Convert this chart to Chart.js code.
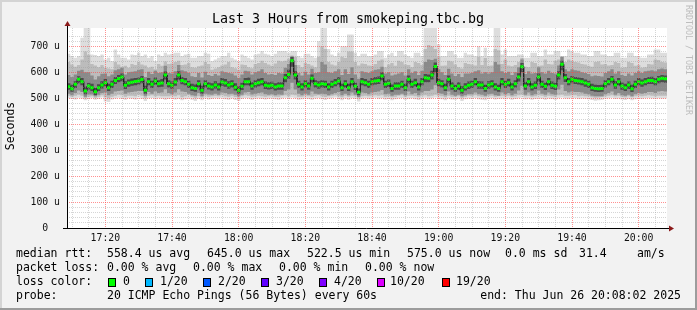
<!DOCTYPE html>
<html>
<head>
<meta charset="utf-8">
<script src="https://cdn.jsdelivr.net/npm/chart.js@4.4.1/dist/chart.umd.min.js"></script>
<style>
  html, body { margin: 0; padding: 0; background: #f2f2f2; }
  canvas { display: block; }
</style>
</head>
<body>
<canvas id="c" width="697" height="310"></canvas>
<script>
// smokeping: 180 one-minute samples, values in microseconds
const startMin = 1028.5; // 17:08:30, left edge of the plot (minutes of the day)

const xTickLabels = ['17:20', '17:40', '18:00', '18:20', '18:40', '19:00', '19:20', '19:40', '20:00'];
const yTickLabels = ['0  ', '100 u', '200 u', '300 u', '400 u', '500 u', '600 u', '700 u'];

// median rtt
const median = [
  545,537,554,573,564,528,547,541,525,541, 551,560,541,554,569,576,582,550,559,562, 565,567,572,531,564,554,567,556,559,590,
  556,550,563,590,569,564,554,541,538,556, 531,556,547,544,551,544,563,559,551,556, 543,531,546,564,564,547,556,560,564,550,
  547,550,544,547,547,579,592,645,590,554, 544,556,547,577,556,551,556,554,544,554, 560,567,541,556,541,564,546,523,564,560,
  554,564,567,569,586,554,558,538,547,547, 554,541,573,554,560,544,564,579,577,590, 623,560,556,541,573,547,538,547,531,544,
  550,554,564,551,551,538,551,556,544,538, 564,554,560,544,556,582,622,547,564,544, 550,582,554,546,564,550,546,590,631,579,
  564,573,569,567,564,559,554,541,538,537, 538,556,564,573,551,564,547,541,551,537, 554,564,559,564,569,569,564,573,577,575
];

// smoke: slowest / fastest ping of each round
const maxRtt = [
  672,663,656,663,733,774,774,669,667,663, 669,650,656,644,688,669,656,656,650,669, 667,676,663,669,656,663,644,669,663,676,
  669,672,676,676,663,669,672,656,656,663, 663,676,672,644,650,656,663,663,676,656, 650,644,669,663,656,650,669,672,682,672,
  669,663,672,682,682,682,676,682,682,663, 656,672,672,663,656,720,774,774,690,669, 663,676,701,701,746,746,676,663,672,672,
  663,663,669,682,682,656,669,676,663,682, 682,669,663,656,676,676,663,774,774,774, 774,708,663,663,682,682,669,656,656,676,
  669,669,663,701,663,695,663,663,772,772, 669,688,663,663,663,669,669,656,656,676, 676,663,663,688,669,669,682,682,663,663,
  688,682,676,676,669,669,663,663,682,682, 669,669,663,663,676,676,656,656,676,676, 663,663,656,656,669,669,688,688,676,676
];
const minRtt = [
  500,497,495,502,498,492,496,500,494,497, 503,488,486,495,499,502,497,494,500,498, 495,503,497,490,499,501,496,500,498,494,
  497,500,495,498,492,496,501,494,490,497, 492,499,495,497,500,498,502,496,494,499, 493,490,497,501,499,494,498,500,497,495,
  498,500,496,494,499,502,497,503,500,494, 496,499,497,494,499,501,496,493,498,500, 503,497,492,499,494,500,497,488,498,500,
  497,499,502,498,500,495,497,492,496,499, 501,494,498,500,496,493,499,502,497,500, 503,498,496,492,499,495,494,498,490,496,
  499,497,501,496,494,492,498,500,495,497, 499,496,500,494,497,500,503,496,499,494, 497,500,498,494,499,497,494,500,503,499,
  498,501,500,497,499,498,496,493,491,492, 494,498,500,502,497,499,495,493,497,492, 496,499,497,500,501,499,497,500,498,499
];

// inner smoke bands (upper / lower edges)
const hi2 = [
  640,630,622,628,650,680,668,632,626,620, 628,618,615,612,640,630,622,625,618,632, 628,640,630,626,618,622,612,632,625,642,
  632,634,640,645,628,630,636,620,618,624, 626,640,632,610,615,620,626,630,640,620, 616,610,630,628,620,616,632,636,645,636,
  630,625,634,645,642,645,652,665,660,628, 620,636,632,626,620,660,700,690,640,630, 626,640,660,655,680,680,640,626,634,632,
  626,625,632,645,650,620,630,636,625,645, 640,630,628,620,640,636,628,690,705,700, 690,660,625,626,645,642,630,620,615,636,
  632,630,626,660,628,655,625,626,690,685, 632,650,626,624,628,640,655,622,620,640, 636,625,626,650,632,630,645,650,660,640,
  650,645,640,638,632,630,625,622,640,642, 630,632,626,628,640,636,618,620,640,636, 625,628,618,620,632,630,650,648,640,638
];
const lo2 = [
  510,506,510,514,510,500,506,508,502,506, 512,504,500,506,510,514,512,506,510,510, 508,514,510,502,510,512,508,510,508,508,
  508,510,508,512,504,508,512,506,502,508, 503,510,506,508,510,508,512,508,506,510, 505,502,508,512,510,506,508,510,508,506,
  508,510,506,506,510,512,508,514,512,506, 506,510,508,506,510,512,508,505,508,510, 512,508,504,510,506,510,508,500,508,510,
  508,510,512,510,512,506,508,504,506,510, 512,506,510,510,508,504,510,512,508,510, 514,510,508,504,510,506,506,508,502,506,
  510,508,512,508,506,504,508,510,506,508, 510,508,510,506,508,512,514,508,510,506, 508,512,510,506,510,508,506,512,514,510,
  510,512,512,508,510,508,508,504,502,503, 505,508,510,512,508,510,506,504,508,504, 508,510,508,510,512,510,508,510,510,510
];
const hi3 = [
  590,582,592,606,610,600,600,588,572,585, 595,596,585,592,608,612,618,592,600,602, 604,610,612,582,602,594,606,598,600,625,
  598,596,604,628,608,604,598,585,582,598, 580,602,590,586,594,588,604,600,598,596, 588,578,592,606,604,592,600,604,612,598,
  592,594,590,598,596,618,632,660,628,598, 588,602,592,614,598,600,640,630,600,598, 604,612,590,612,594,620,592,575,604,600,
  598,604,610,612,622,596,600,588,592,596, 600,588,612,598,604,590,606,640,650,648, 652,612,600,590,614,596,586,594,582,596,
  596,598,604,608,596,600,596,600,640,630, 604,598,602,590,600,620,650,594,604,596, 598,620,600,596,606,598,596,626,660,612,
  604,612,608,606,600,598,594,585,588,586, 584,598,604,612,596,604,590,586,596,588, 598,604,598,604,606,608,604,612,615,612
];
const lo3 = [
  518,512,520,530,524,506,515,515,508,514, 520,522,512,518,526,528,530,518,522,524, 526,528,528,510,524,518,526,520,522,535,
  520,516,522,535,526,524,518,512,510,520, 508,518,515,514,518,514,522,520,516,518, 514,508,514,522,524,515,518,520,522,516,
  514,516,512,515,514,528,534,560,534,518, 512,518,514,526,518,516,518,516,512,516, 520,524,512,518,512,522,514,505,522,520,
  516,522,524,526,532,516,518,510,514,514, 518,512,526,516,520,512,522,528,528,534, 550,520,518,512,526,514,510,514,508,512,
  516,516,522,516,514,510,516,518,512,510, 522,516,520,512,518,530,548,514,522,512, 516,530,518,514,522,516,514,534,552,528,
  522,526,524,524,522,518,516,510,508,508, 508,516,520,526,514,520,512,510,514,508, 516,520,518,520,524,524,520,526,528,526
];
const hi4 = [
  558,552,566,585,578,545,560,556,540,554, 566,574,556,568,582,590,596,566,572,576, 578,580,586,548,578,568,580,570,574,603,
  570,565,578,604,582,578,568,556,553,570, 548,570,562,558,566,558,578,574,566,570, 558,546,560,578,580,562,570,575,578,565,
  562,564,558,562,562,594,610,660,604,568, 558,570,562,592,570,566,570,568,558,568, 574,582,556,570,556,578,560,538,578,574,
  568,578,582,584,600,568,572,553,562,562, 568,556,588,568,575,558,578,594,592,606, 638,575,570,556,588,562,552,562,546,558,
  565,568,578,566,565,552,566,570,558,552, 578,568,575,558,570,597,636,562,578,558, 565,596,568,560,578,565,560,604,645,594,
  578,586,582,580,578,572,568,556,552,551, 552,570,578,586,566,578,562,556,565,552, 568,578,572,578,582,583,578,586,590,588
];
const lo4 = [
  533,525,540,558,550,516,534,528,513,528, 538,546,528,540,555,562,566,536,545,548, 550,553,558,518,550,540,552,543,545,572,
  542,537,548,572,554,550,540,528,525,542, 518,542,534,530,538,530,548,545,537,542, 530,518,532,550,550,533,542,546,550,536,
  534,536,530,533,533,562,575,622,572,540, 530,542,533,560,542,537,542,540,530,540, 546,552,528,542,528,550,532,512,550,546,
  540,550,553,555,570,540,544,525,533,533, 540,528,558,540,546,530,550,562,562,572, 600,546,542,528,558,533,525,533,518,530,
  536,540,550,537,537,525,537,542,530,525, 550,540,546,530,542,565,600,533,550,530, 536,566,540,532,550,536,532,572,608,563,
  550,558,555,553,550,545,540,528,525,524, 525,542,550,558,537,550,533,528,537,524, 540,550,545,550,555,555,550,558,562,560
];

const lossColors = ['#00ff00', '#00b8ff', '#0059ff', '#5e00ff', '#7e00ff', '#dd00ff', '#ff0000'];
const lossLabels = ['0', '1/20', '2/20', '3/20', '4/20', '10/20', '19/20'];

const MONO = '"DejaVu Sans Mono", monospace';
const MAJOR = 'rgba(255,70,70,0.6)';
const MINOR = 'rgba(150,150,150,0.4)';

function stepPoints(vals) {
  const pts = [];
  vals.forEach((v, i) => {
    pts.push({ x: startMin + i, y: v });
    pts.push({ x: startMin + i + 1, y: v });
  });
  return pts;
}

function band(lo, hi, color, order) {
  const base = { pointRadius: 0, borderWidth: 0, borderColor: 'rgba(0,0,0,0)', order };
  return [
    Object.assign({ data: stepPoints(lo), fill: false }, base),
    Object.assign({ data: stepPoints(hi), fill: '-1', backgroundColor: color }, base)
  ];
}

// green = median with 0 packet loss, drawn as separate steps
const greenPts = [];
median.forEach((v, i) => {
  greenPts.push({ x: startMin + i, y: v }, { x: startMin + i + 1, y: v }, { x: startMin + i + 1, y: null });
});

const rrdLook = {
  id: 'rrdLook',
  beforeDraw(chart) {
    const { ctx, chartArea: a } = chart;
    ctx.save();
    ctx.fillStyle = '#f2f2f2';
    ctx.fillRect(0, 0, chart.width, chart.height);
    // frame
    ctx.fillStyle = '#d4d4d4';
    ctx.fillRect(0, 0, chart.width, 2);
    ctx.fillRect(0, 0, 2, chart.height);
    ctx.fillStyle = '#9c9c9c';
    ctx.fillRect(chart.width - 2, 0, 2, chart.height);
    ctx.fillRect(0, chart.height - 2, chart.width, 2);
    ctx.fillStyle = '#ffffff';
    ctx.fillRect(a.left, a.top, a.right - a.left, a.bottom - a.top);
    ctx.restore();
  },
  afterDraw(chart) {
    const { ctx, chartArea: a } = chart;
    ctx.save();
    // axes
    ctx.strokeStyle = '#000';
    ctx.lineWidth = 1;
    ctx.beginPath();
    ctx.moveTo(a.left + 0.5, a.bottom + 0.5);
    ctx.lineTo(a.left + 0.5, a.top - 3);
    ctx.moveTo(a.left - 4, a.bottom + 0.5);
    ctx.lineTo(a.right + 3, a.bottom + 0.5);
    ctx.stroke();
    ctx.fillStyle = '#8b1a1a';
    ctx.beginPath();
    ctx.moveTo(a.left + 0.5, a.top - 7);
    ctx.lineTo(a.left - 2.5, a.top - 2);
    ctx.lineTo(a.left + 3.5, a.top - 2);
    ctx.closePath();
    ctx.fill();
    ctx.beginPath();
    ctx.moveTo(a.right + 7, a.bottom + 0.5);
    ctx.lineTo(a.right + 2, a.bottom - 2.5);
    ctx.lineTo(a.right + 2, a.bottom + 3.5);
    ctx.closePath();
    ctx.fill();

    // title
    ctx.fillStyle = '#000';
    ctx.textBaseline = 'middle';
    ctx.textAlign = 'center';
    ctx.font = '13.3px ' + MONO;
    ctx.fillText('Last 3 Hours from smokeping.tbc.bg', 348, 20);

    // y axis title
    ctx.save();
    ctx.translate(11, 126);
    ctx.rotate(-Math.PI / 2);
    ctx.font = '11.5px ' + MONO;
    ctx.fillText('Seconds', 0, 0);
    ctx.restore();

    // watermark
    ctx.save();
    ctx.translate(688, 5);
    ctx.rotate(Math.PI / 2);
    ctx.textAlign = 'left';
    ctx.fillStyle = '#bdbdbd';
    ctx.font = '8.3px ' + MONO;
    ctx.fillText('RRDTOOL / TOBI OETIKER', 0, 0);
    ctx.restore();

    // legend
    ctx.font = '11.5px ' + MONO;
    ctx.textAlign = 'left';
    ctx.fillStyle = '#000';
    const rows = [254.5, 268.5, 282.5, 296.5];
    const put = (t, x, y) => ctx.fillText(t, x, y);
    put('median rtt:', 16, rows[0]);
    put('558.4 us avg', 107, rows[0]);
    put('645.0 us max', 207, rows[0]);
    put('522.5 us min', 307, rows[0]);
    put('575.0 us now', 407, rows[0]);
    put('0.0 ms sd', 505, rows[0]);
    put('31.4', 579, rows[0]);
    put('am/s', 637, rows[0]);

    put('packet loss:', 16, rows[1]);
    put('0.00 % avg', 107, rows[1]);
    put('0.00 % max', 193, rows[1]);
    put('0.00 % min', 279, rows[1]);
    put('0.00 % now', 365, rows[1]);

    put('loss color:', 16, rows[2]);
    const boxX = [108, 145, 203, 261, 319, 377, 442];
    const labX = [123, 160, 218, 276, 334, 390, 456];
    lossColors.forEach((c, i) => {
      ctx.fillStyle = c;
      ctx.fillRect(boxX[i], rows[2] - 4.5, 8, 9);
      ctx.strokeStyle = '#000';
      ctx.strokeRect(boxX[i] + 0.5, rows[2] - 4, 7, 8);
      ctx.fillStyle = '#000';
      put(lossLabels[i], labX[i], rows[2]);
    });

    put('probe:', 16, rows[3]);
    put('20 ICMP Echo Pings (56 Bytes) every 60s', 107, rows[3]);
    ctx.textAlign = 'right';
    put('end: Thu Jun 26 20:08:02 2025', 681, rows[3]);
    ctx.restore();
  }
};

new Chart(document.getElementById('c'), {
  type: 'line',
  data: {
    datasets: [
      ...band(minRtt, maxRtt, '#dddddd', 10),
      ...band(lo2, hi2, '#bcbcbc', 9),
      ...band(lo3, hi3, '#8a8a8a', 8),
      ...band(lo4, hi4, '#4c4c4c', 7),
      { data: stepPoints(median), borderColor: '#202020', borderWidth: 1, pointRadius: 0, fill: false, order: 1 },
      { data: greenPts, borderColor: '#00ff00', borderWidth: 3, borderCapStyle: 'butt', pointRadius: 0, fill: false, spanGaps: false, order: 0 }
    ]
  },
  options: {
    responsive: false,
    devicePixelRatio: 1,
    animation: false,
    events: [],
    layout: { padding: { top: 28, right: 30, bottom: 0, left: 0 } },
    plugins: { legend: { display: false }, tooltip: { enabled: false } },
    scales: {
      x: {
        type: 'linear',
        min: startMin,
        max: startMin + 180,
        afterFit: s => { s.height = 82; },
        // grid every 5 minutes, labels every 20 minutes
        afterBuildTicks: s => {
          const t = [];
          for (let v = Math.ceil(s.min / 5) * 5; v <= s.max; v += 5) t.push({ value: v });
          s.ticks = t;
        },
        grid: {
          z: 1,
          drawTicks: false,
          color: c => (c.tick && c.tick.value % 20 === 0) ? MAJOR : MINOR
        },
        border: { display: false, dash: [1, 1] },
        ticks: {
          autoSkip: false,
          maxRotation: 0,
          padding: 5,
          color: '#111',
          font: { family: MONO, size: 9.8 },
          callback: v => (v % 20 === 0 ? xTickLabels[(v - 1040) / 20] : '')
        }
      },
      y: {
        min: 0,
        max: 771,
        afterFit: s => { s.width = 67; },
        afterBuildTicks: s => { s.ticks = s.ticks.filter(t => t.value % 20 === 0); },
        grid: {
          z: 1,
          drawTicks: false,
          color: c => (c.tick && c.tick.value % 100 === 0) ? MAJOR : MINOR
        },
        border: { display: false, dash: [1, 1] },
        ticks: {
          stepSize: 20,
          autoSkip: false,
          padding: 7,
          color: '#111',
          font: { family: MONO, size: 9.8 },
          callback: v => (v % 100 === 0 ? yTickLabels[v / 100] : '')
        }
      }
    }
  },
  plugins: [rrdLook]
});
</script>
</body>
</html>
